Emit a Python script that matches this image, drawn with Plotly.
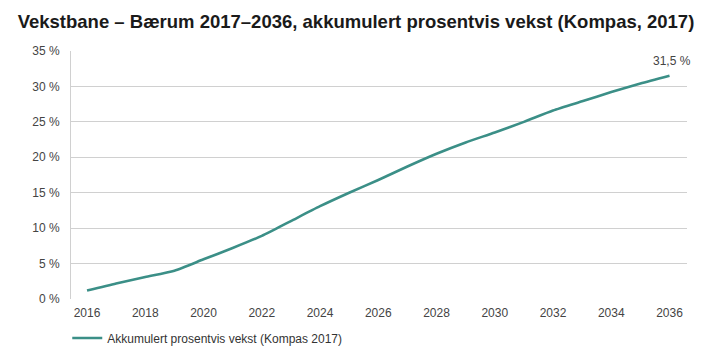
import plotly.graph_objects as go

years = list(range(2016, 2037))
vekst = [1.2, 2.2, 3.1, 4.0, 5.6, 7.2, 8.9, 11.0, 13.1, 15.0, 16.8, 18.7,
         20.5, 22.1, 23.5, 25.0, 26.6, 27.9, 29.2, 30.4, 31.5]
y_ticks = [0, 5, 10, 15, 20, 25, 30, 35]
y_labels = [f"{v} %" for v in y_ticks]
x_ticks = list(range(2016, 2037, 2))
series_name = "Akkumulert prosentvis vekst (Kompas 2017)"
title = "Vekstbane – Bærum 2017–2036, akkumulert prosentvis vekst (Kompas, 2017)"

color = "#3b8f87"
font_fam = "Liberation Sans Narrow, Arial Narrow, Liberation Sans, Arial, sans-serif"

fig = go.Figure()
fig.add_trace(go.Scatter(x=years, y=vekst, mode="lines", name=series_name,
                         line=dict(color=color, width=2.6, shape="spline", smoothing=0.6),
                         showlegend=True))
fig.add_annotation(x=years[-1], y=vekst[-1], text="31,5 %", showarrow=False,
                   yshift=15, xshift=2, font=dict(size=12, color="#444", family=font_fam))

fig.update_layout(
    width=708, height=351,
    margin=dict(l=71, r=21, t=51, b=52, autoexpand=False),
    paper_bgcolor="white", plot_bgcolor="white",
    title=dict(text="<b>" + title + "</b>", x=0.025, xanchor="left", y=0.94, yanchor="middle",
               font=dict(size=18.5, color="#1a1a1a", family=font_fam)),
    font=dict(family=font_fam, size=12, color="#444"),
    legend=dict(orientation="h", x=0.095, xref="container", xanchor="left",
                y=0.037, yref="container", yanchor="middle", itemwidth=30,
                font=dict(size=12, color="#333", family=font_fam)),
    xaxis=dict(range=[2015.45, 2036.6], tickvals=x_ticks, showgrid=False, zeroline=False,
               showline=False, ticks="", ticklabelstandoff=5, automargin=False,
               tickfont=dict(size=12, color="#444")),
    yaxis=dict(range=[0, 35], tickvals=y_ticks, ticktext=y_labels, showgrid=True,
               gridcolor="#d0d0d0", gridwidth=1, zeroline=False, showline=True,
               linecolor="#d0d0d0", linewidth=1, ticks="", ticklabelstandoff=8,
               automargin=False, tickfont=dict(size=12, color="#444")),
)
fig.write_html("out.html")
